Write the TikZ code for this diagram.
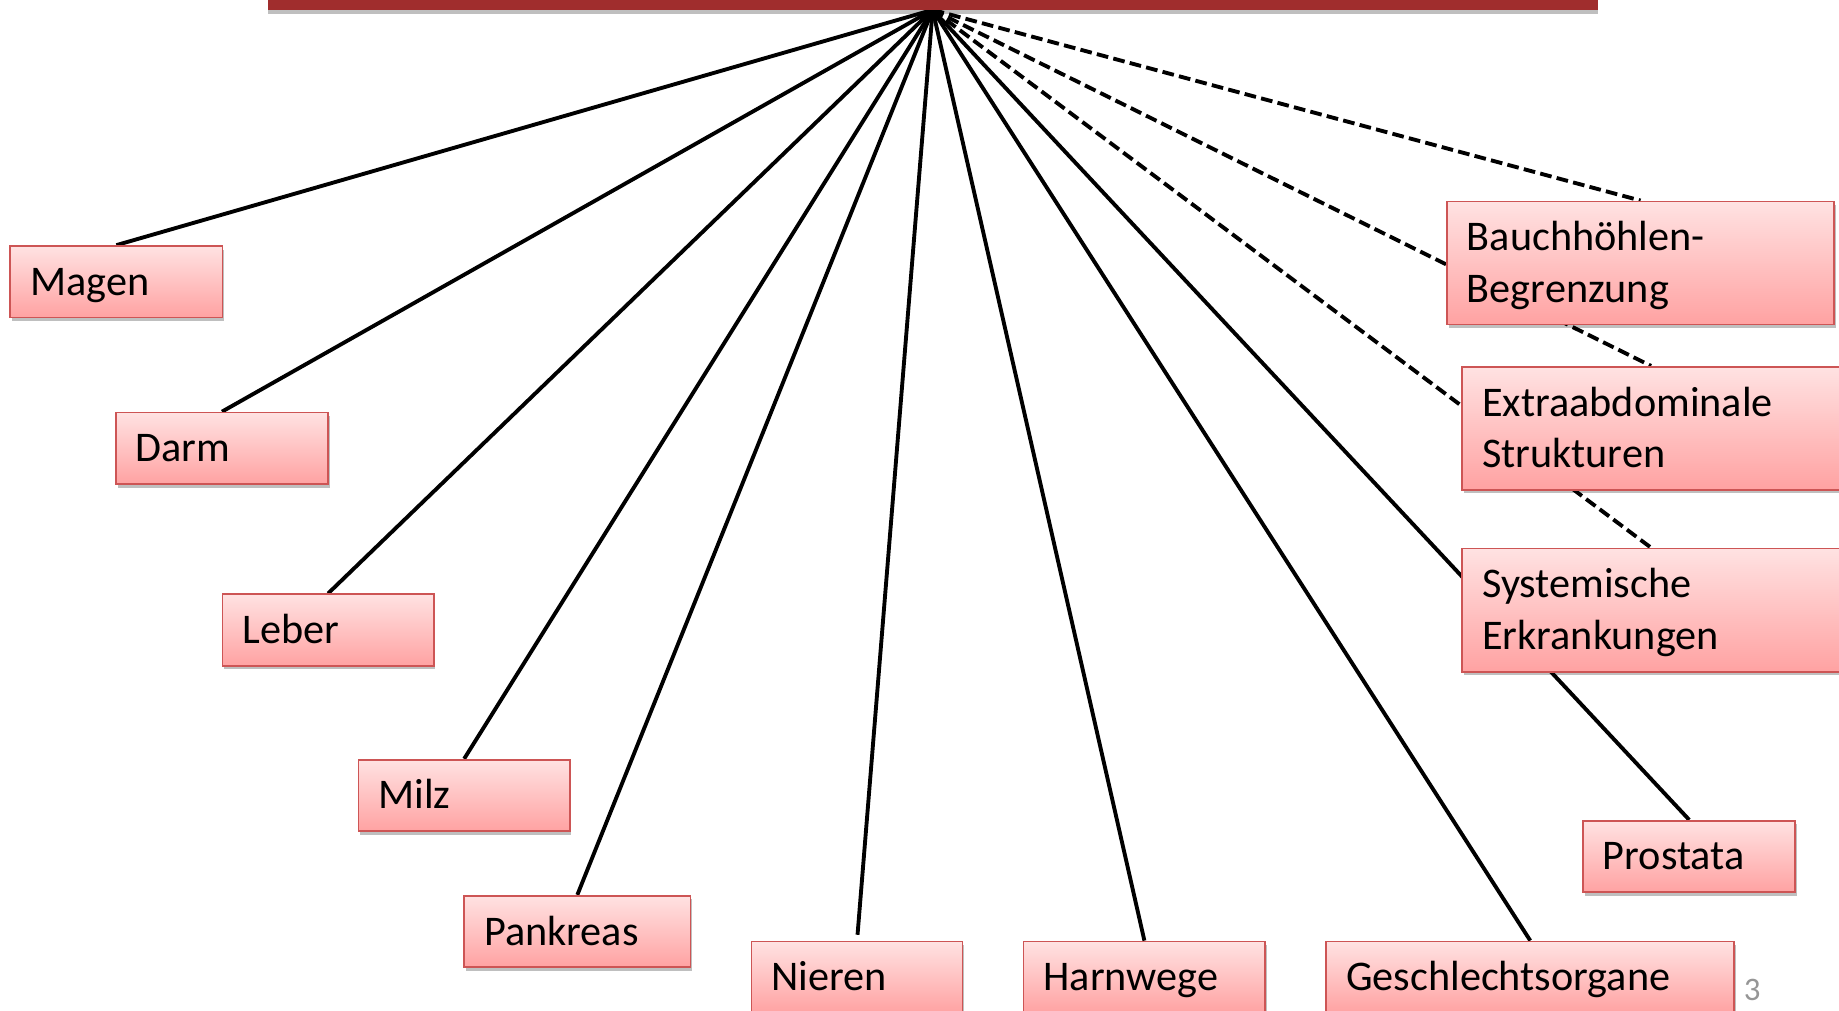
\documentclass[tikz,border=0pt]{standalone}
\usepackage{fontspec}
\setmainfont{Carlito}
\usetikzlibrary{shadows,backgrounds}
\definecolor{barred}{RGB}{160,45,45}
\definecolor{boxborder}{RGB}{205,85,85}
\definecolor{boxtop}{RGB}{255,226,226}
\definecolor{boxbot}{RGB}{255,162,162}
\definecolor{pagegray}{RGB}{150,150,150}
\begin{document}
\begin{tikzpicture}[x=1pt,y=-1pt,
  organ/.style 2 args={draw=boxborder, line width=1.5pt, top color=boxtop, bottom color=boxbot,
    anchor=north west, inner xsep=17pt, inner ysep=0pt, align=left,
    minimum width=#1, text width=#1-34pt, minimum height=#2,
    font=\fontsize{36}{44}\selectfont, text height=27pt, text depth=4pt,
    drop shadow={shadow xshift=1.5pt, shadow yshift=-3pt, fill=black, opacity=0.25}},
  twoline/.style={text depth=48pt},
  link/.style={line width=3.3pt, black},
  dlink/.style={line width=3.3pt, black, dash pattern=on 10pt off 4.5pt}
]
\useasboundingbox (0,0) rectangle (1568,862);

\node[anchor=north west, fill=barred, minimum width=1134, minimum height=40, inner sep=0pt,
  drop shadow={shadow xshift=0pt, shadow yshift=-4pt, fill=black, opacity=0.25}] (bar) at (228,-32) {};

\node[organ={181pt}{61pt}] (magen) at (8,209) {Magen};
\node[organ={181pt}{61pt}] (darm) at (98,351) {Darm};
\node[organ={180pt}{61pt}] (leber) at (189,506) {Leber};
\node[organ={180pt}{61pt}] (milz) at (305,647) {Milz};
\node[organ={193pt}{61pt}] (pankreas) at (395,763) {Pankreas};
\node[organ={180pt}{61pt}] (nieren) at (640,802) {Nieren};
\node[organ={206pt}{61pt}] (harnwege) at (872,802) {Harnwege};
\node[organ={348pt}{61pt}] (geschlecht) at (1130,802) {Geschlechtsorgane};
\node[organ={181pt}{61pt}] (prostata) at (1349,699) {Prostata};
\node[organ={330pt}{105pt}, twoline] (bauch) at (1233,171) {Bauchhöhlen-\\Begrenzung};
\node[organ={322pt}{105pt}, twoline] (extra) at (1246,312) {Extraabdominale\\Strukturen};
\node[organ={322pt}{105pt}, twoline] (system) at (1246,467) {Systemische\\Erkrankungen};

\node[text=pagegray, font=\fontsize{28}{32}\selectfont, inner sep=0pt] (page) at (1494,844) {3};

\begin{pgfonlayer}{background}
\draw[link] (bar.south) -- (magen.north);
\draw[link] (bar.south) -- (darm.north);
\draw[link] (bar.south) -- (leber.north);
\draw[link] (bar.south) -- (milz.north);
\draw[link] (bar.south) -- (pankreas.north);
\draw[link, shorten >=5pt] (bar.south) -- (nieren.north);
\draw[link] (bar.south) -- (harnwege.north);
\draw[link] (bar.south) -- (geschlecht.north);
\draw[link] (bar.south) -- (prostata.north);
\draw[dlink] (bar.south) -- (bauch.north);
\draw[dlink] (bar.south) -- (extra.north);
\draw[dlink] (bar.south) -- (system.north);
\end{pgfonlayer}
\end{tikzpicture}
\end{document}
